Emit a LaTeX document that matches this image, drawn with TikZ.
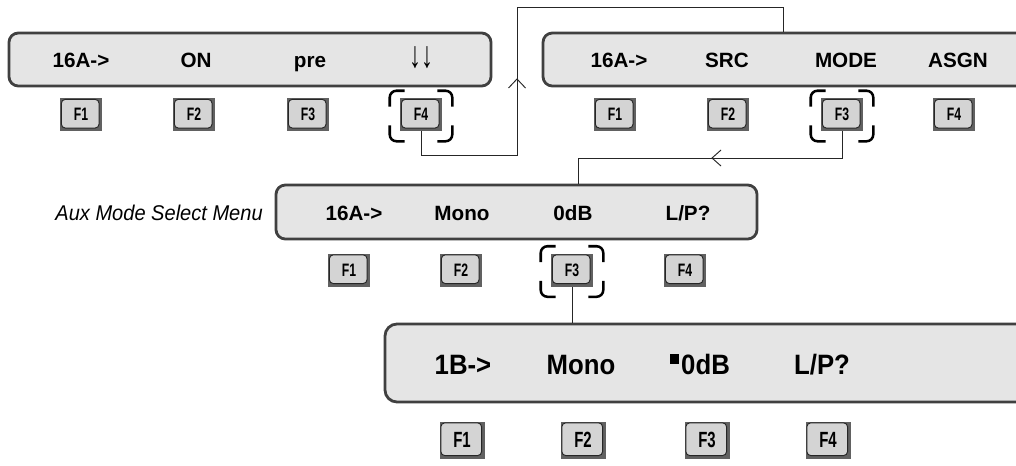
\documentclass[tikz,border=0pt]{standalone}
\usepackage{fontspec}
\setmainfont{Liberation Sans}
\usepackage{graphicx}
\usetikzlibrary{calc}
\tikzset{
  disp/.style={draw=black!75, line width=2.1pt, fill=black!10, rounded corners=7pt, inner sep=0pt},
  dtxt/.style={anchor=base, font=\fontsize{15.5}{18}\selectfont\bfseries, inner sep=0pt},
  bigtxt/.style={anchor=base, font=\fontsize{21}{24}\selectfont\bfseries, inner sep=0pt},
  auxtxt/.style={anchor=base east, font=\fontsize{16}{18}\selectfont\itshape, inner sep=0pt},
  fkey/.style={fill=black!62, inner sep=0pt, minimum width=31.5pt, minimum height=24.75pt,
    font=\fontsize{13.5}{14}\selectfont\bfseries,
    path picture={\draw[fill=black!17, draw=black!85, line width=0.7pt, rounded corners=3pt]
      ([shift={(1pt,-1pt)}]path picture bounding box.north west) rectangle
      ([shift={(-2.2pt,2.2pt)}]path picture bounding box.south east);}},
  bigkey/.style={fkey, minimum width=33.75pt, minimum height=27.75pt, font=\fontsize{16.5}{18}\selectfont\bfseries},
  brk/.style={line width=1.9pt, rounded corners=5pt},
  conn/.style={line width=0.7pt, draw=black!85},
}
\newcommand\fklab[1]{\scalebox{0.68}[1]{#1}}
\newcommand\fkbrk[1]{%
  \draw[brk] ([shift={(-10,9)}]#1.north west) -- ([shift={(-10,-7)}]#1.north west) -- ([shift={(5,-7)}]#1.north west);
  \draw[brk] ([shift={(10,9)}]#1.north east) -- ([shift={(10,-7)}]#1.north east) -- ([shift={(-5,-7)}]#1.north east);
  \draw[brk] ([shift={(-10,-6)}]#1.south west) -- ([shift={(-10,10)}]#1.south west) -- ([shift={(5,10)}]#1.south west);
  \draw[brk] ([shift={(10,-6)}]#1.south east) -- ([shift={(10,10)}]#1.south east) -- ([shift={(-5,10)}]#1.south east);
}
\begin{document}
\begin{tikzpicture}[x=0.75pt,y=-0.75pt]
\useasboundingbox (0,0) rectangle (1016,465);
\clip (0,0) rectangle (1016,465);
\fill[white] (0,0) rectangle (1016,465);

% displays
\node[disp, minimum width=361.5pt, minimum height=39.75pt] (d1) at (250,59.5) {};
\node[disp, minimum width=365.25pt, minimum height=39.75pt] (d2) at (786.5,59.5) {};
\node[disp, minimum width=360.75pt, minimum height=40.5pt] (d3) at (516.5,212) {};
\node[disp, rounded corners=9pt, minimum width=483.75pt, minimum height=58.5pt] (d4) at (707.5,363) {};

% display texts
\node[dtxt] (t11) at (81,67) {16A->};
\node[dtxt] (t12) at (196,67) {ON};
\node[dtxt] (t13) at (310,67) {pre};
\node[dtxt] (t14) at (421,67) {\scalebox{1.15}[1.8]{↓↓}};

\node[dtxt] (t21) at (619,67) {16A->};
\node[dtxt] (t22) at (727,67) {SRC};
\node[dtxt] (t23) at (846,67) {MODE};
\node[dtxt] (t24) at (958,67) {ASGN};

\node[dtxt] (t31) at (354,220) {16A->};
\node[dtxt] (t32) at (462,220) {Mono};
\node[dtxt] (t33) at (573,220) {0dB};
\node[dtxt] (t34) at (688,220) {L/P?};

\node[bigtxt] (t41) at (463,374) {\scalebox{0.92}[1]{1B->}};
\node[bigtxt] (t42) at (581,374) {\scalebox{0.92}[1]{Mono}};
\node[bigtxt] (t43) at (700,374) {\scalebox{0.92}[1]{\raisebox{7.5pt}{\rule{7.5pt}{7.5pt}}\hspace{1.5pt}0dB}};
\node[bigtxt] (t44) at (822,374) {\scalebox{0.92}[1]{L/P?}};

\node[auxtxt] (aux) at (263,220) {\scalebox{0.94}[1]{Aux Mode Select Menu}};

% keys
\node[fkey] (k11) at (81,114.5) {\fklab{F1}};
\node[fkey] (k12) at (194,114.5) {\fklab{F2}};
\node[fkey] (k13) at (308,114.5) {\fklab{F3}};
\node[fkey] (k14) at (421,114.5) {\fklab{F4}};

\node[fkey] (k21) at (615,114.5) {\fklab{F1}};
\node[fkey] (k22) at (728,114.5) {\fklab{F2}};
\node[fkey] (k23) at (842,114.5) {\fklab{F3}};
\node[fkey] (k24) at (954,114.5) {\fklab{F4}};

\node[fkey] (k31) at (349,270) {\fklab{F1}};
\node[fkey] (k32) at (461,270) {\fklab{F2}};
\node[fkey] (k33) at (572,270) {\fklab{F3}};
\node[fkey] (k34) at (685,270) {\fklab{F4}};

\node[bigkey] (k41) at (462,440) {\fklab{F1}};
\node[bigkey] (k42) at (583,440) {\fklab{F2}};
\node[bigkey] (k43) at (707,440) {\fklab{F3}};
\node[bigkey] (k44) at (828,440) {\fklab{F4}};

% brackets
\fkbrk{k14}
\fkbrk{k23}
\fkbrk{k33}

% connectors
\coordinate (c1a) at (517,155);
\coordinate (c1b) at (517,7);
\coordinate (c1c) at (783,7);
\draw[conn] (k14.south) |- (c1a) -- (c1b) -- (c1c) -- (c1c |- d2.north);
\coordinate (ar1) at (517,79);
\draw[conn] (ar1) ++(-8.5,9) -- (ar1) -- ++(8.5,9);

\coordinate (c2a) at (578,158);
\draw[conn] (k23.south) |- (c2a) -- (c2a |- d3.north);
\coordinate (ar2) at (712,158);
\draw[conn] (ar2) ++(9,-8) -- (ar2) -- ++(9,8);

\draw[conn] (k33.south) -- (k33.south |- d4.north);
\end{tikzpicture}
\end{document}
